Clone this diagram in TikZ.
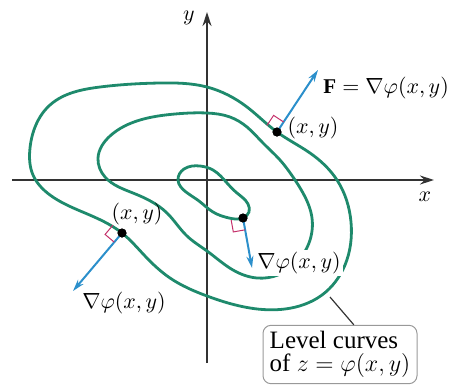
\documentclass[tikz,border=0pt]{standalone}
\usepackage{fontspec}
\setmainfont{Liberation Serif}
\usetikzlibrary{arrows.meta,calc,hobby}
\definecolor{levelgreen}{HTML}{1E8A6C}
\definecolor{gradblue}{HTML}{2B8FCB}
\definecolor{perpred}{HTML}{C4306A}
\begin{document}
\begin{tikzpicture}[x=0.5pt, y=-0.5pt,
        font=\fontsize{10.5}{12}\selectfont,
        axis/.style={-{Stealth[length=7pt, width=4.5pt]}, draw=black!80, line width=0.7pt},
        level/.style={draw=levelgreen, line width=1.4pt, use Hobby shortcut, closed=true},
        grad/.style={-{Stealth[length=6pt, width=3.5pt]}, draw=gradblue, line width=1pt},
        perp/.style={draw=perpred, line width=0.5pt},
        dot/.style={circle, fill=black, inner sep=0pt, minimum size=4.5pt},
        lbl/.style={inner sep=1pt},
        tag/.style={draw=black!40, rounded corners=4pt, line width=0.5pt, align=left, inner sep=3pt,
            font=\fontsize{12.5}{11.5}\selectfont}
    ]
    \useasboundingbox (0,0) rectangle (450,387);

    \coordinate (xs) at (12,180);
    \coordinate (xe) at (434,180);
    \coordinate (ys) at (207,363);
    \coordinate (ye) at (207,12);
    \draw[axis] (xs) -- (xe);
    \draw[axis] (ys) -- (ye);
    \node[lbl] (xlab) at (425,197) {$x$};
    \node[lbl] (ylab) at (189,18) {$y$};

    % level curves
    \draw[level] (30,148) .. (50,105) .. (100,87) .. (160,83) .. (207,87) .. (247,107)
        .. (277,132) .. (310,153) .. (337,180) .. (351,222) .. (345,265) .. (322,295)
        .. (285,309) .. (250,308) .. (207,296) .. (170,278) .. (145,256) .. (122,233)
        .. (85,213) .. (50,195) .. (33,175);
    \draw[level] (207,113) .. (230,117) .. (247,127) .. (263,143) .. (280,160) .. (293,177)
        .. (303,193) .. (312,218) .. (309,243) .. (296,263) .. (278,275) .. (257,278)
        .. (233,270) .. (207,251) .. (187,236) .. (167,213) .. (133,193) .. (105,177)
        .. (98,158) .. (110,136) .. (140,120) .. (175,114);
    \draw[level] (200,166) .. (213,170) .. (227,183) .. (237,193) .. (248,204) .. (249,212)
        .. (243,218) .. (229,218) .. (213,212) .. (199,201) .. (186,192) .. (178,180) .. (184,169);

    % gradient vectors
    \node[dot] (p1) at (277,132) {};
    \node[dot] (p2) at (122,233) {};
    \node[dot] (p3) at (243,218) {};
    \coordinate (f1) at (318,70);
    \coordinate (f2) at (73,291);
    \coordinate (f3) at (252,268);
    \draw[grad] (p1.center) -- (f1);
    \draw[grad] (p2.center) -- (f2);
    \draw[grad] (p3.center) -- (f3);

    \draw[perp] ($(p1.center)!6pt!90:(f1)$) -- ($($(p1.center)!6pt!90:(f1)$)+($(p1.center)!6pt!(f1)$)-(p1.center)$) -- ($(p1.center)!6pt!(f1)$);
    \draw[perp] ($(p2.center)!6pt!-90:(f2)$) -- ($($(p2.center)!6pt!-90:(f2)$)+($(p2.center)!6pt!(f2)$)-(p2.center)$) -- ($(p2.center)!6pt!(f2)$);
    \draw[perp] ($(p3.center)!6pt!-90:(f3)$) -- ($($(p3.center)!6pt!-90:(f3)$)+($(p3.center)!6pt!(f3)$)-(p3.center)$) -- ($(p3.center)!6pt!(f3)$);
    \node[dot] at (p1) {};
    \node[dot] at (p2) {};
    \node[dot] at (p3) {};

    \node[lbl, anchor=west] (flab) at (321,88) {$\mathbf{F}=\nabla\varphi(x, y)$};
    \node[lbl] (p1lab) at (313,128) {$(x, y)$};
    \node[lbl] (p2lab) at (137,214) {$(x, y)$};
    \node[lbl] (g2lab) at (124,303) {$\nabla\varphi(x, y)$};
    \node[lbl, fill=white] (g3lab) at (299,263) {$\nabla\varphi(x, y)$};

    \node[tag, minimum width=77pt, minimum height=27.5pt] (box) at (340,354.5) {Level curves\\of $z=\varphi(x, y)$};
    \coordinate (tag) at (330,297);
    \draw[black!80, line width=0.6pt] (tag) -- (box.65);
\end{tikzpicture}
\end{document}
